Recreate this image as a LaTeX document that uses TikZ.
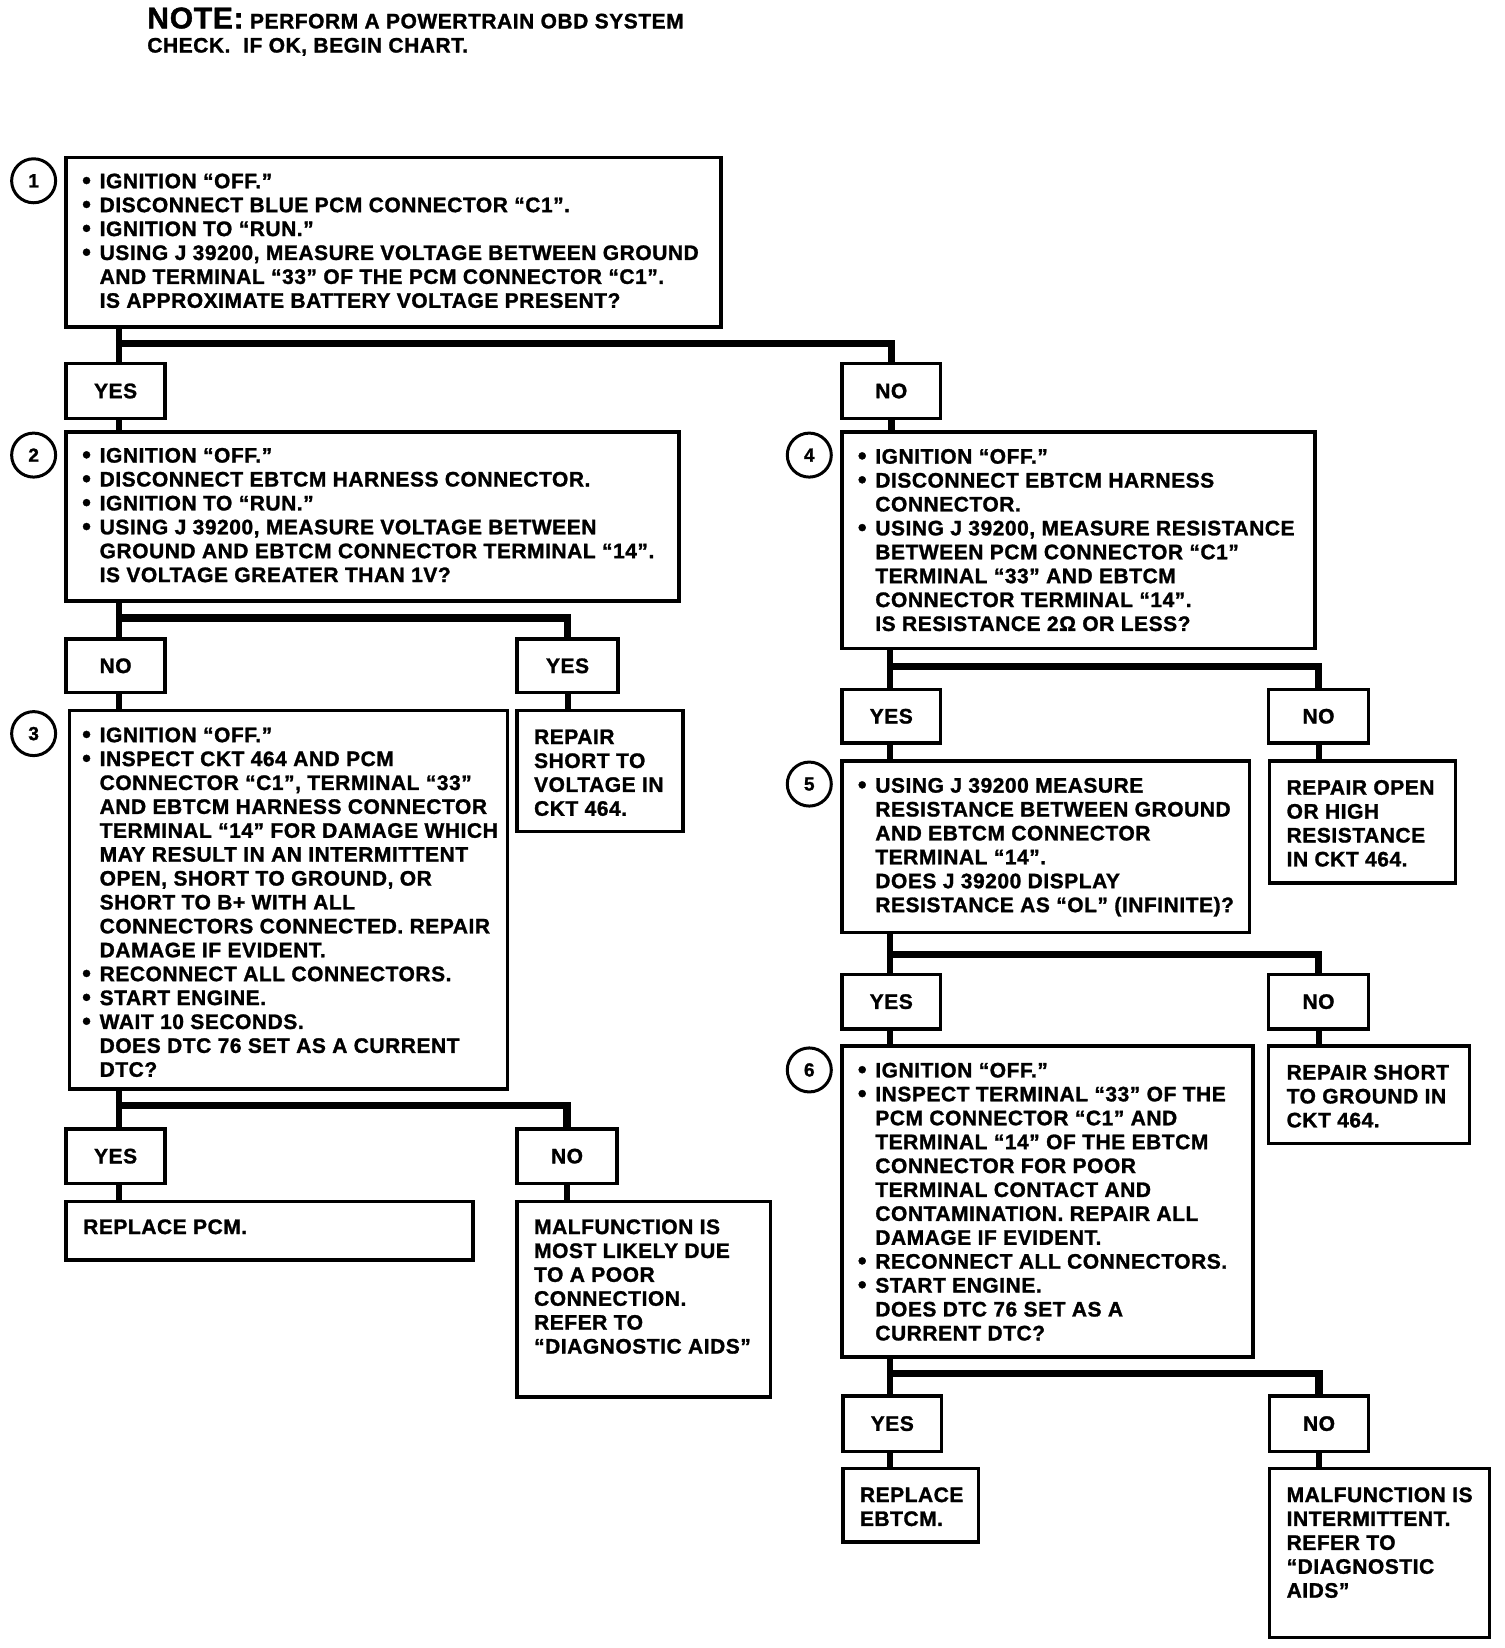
\documentclass[tikz,border=0pt]{standalone}
\usepackage{fontspec}
\setmainfont{Liberation Sans}[LetterSpace=2.5, BoldFeatures={FakeBold=1.3}]
\usetikzlibrary{fit}
\newcommand\bu{\makebox[17.5pt][l]{\raisebox{-0.5pt}{\fontsize{25}{25}\selectfont •}}}
\newcommand\ii{\hspace*{17.5pt}}
\tikzset{
  box/.style={draw, line width=3.5pt, inner sep=0pt, rectangle},
  lbl/.style={draw, line width=3.5pt, inner sep=0pt, rectangle},
  lbltext/.style={font=\fontsize{21}{24}\selectfont\bfseries, inner sep=0pt},
  txt/.style={font=\fontsize{21}{23.9}\selectfont\bfseries, align=left, inner sep=0pt, anchor=north west},
  circ/.style={draw, circle, line width=3pt, minimum size=44pt, inner sep=0pt, font=\fontsize{19}{19}\selectfont\bfseries},
  stem/.style={line width=6pt, line cap=butt},
  bar/.style={line width=7.5pt, line cap=butt, line join=miter},
}
\begin{document}
\begin{tikzpicture}[x=1.051pt, y=-1.051pt]
\useasboundingbox (0,0) rectangle (1431,1568);

% note
\node[anchor=base west, inner sep=0pt, font=\fontsize{21}{24}\selectfont\bfseries] (note1) at (140,27) {{\fontsize{30}{30}\selectfont NOTE:} PERFORM A POWERTRAIN OBD SYSTEM};
\node[anchor=base west, inner sep=0pt, font=\fontsize{21}{24}\selectfont\bfseries] (note2) at (140,50) {CHECK.\ \ IF OK, BEGIN CHART.};

% ---------- boxes ----------
\node[box, fit={(63,150) (686,311)}] (b1) {};
\node[box, fit={(63,411) (646,572)}] (b2) {};
\node[box, fit={(66,676) (483,1036)}] (b3) {};
\node[box, fit={(492,676) (650,791)}] (r2) {};
\node[box, fit={(63,1143) (450,1199)}] (r3y) {};
\node[box, fit={(492,1143) (733,1329)}] (r3n) {};
\node[box, fit={(801,411) (1251,617)}] (b4) {};
\node[box, fit={(1208,724) (1385,840)}] (r4) {};
\node[box, fit={(801,724) (1189,887)}] (b5) {};
\node[box, fit={(1207,995) (1398,1088)}] (r5) {};
\node[box, fit={(801,995) (1192,1291)}] (b6) {};
\node[box, fit={(802,1397) (931,1467)}] (r6y) {};
\node[box, fit={(1208,1397) (1417,1558)}] (r6n) {};

% ---------- yes/no labels ----------
\node[lbl, fit={(63,346) (157,398)}, label={[lbltext]center:YES}] (y1) {};
\node[lbl, fit={(801,346) (895,398)}, label={[lbltext]center:NO}] (n1) {};
\node[lbl, fit={(63,608) (157,659)}, label={[lbltext]center:NO}] (n2) {};
\node[lbl, fit={(492,608) (588,659)}, label={[lbltext]center:YES}] (y2) {};
\node[lbl, fit={(63,1074) (157,1126)}, label={[lbltext]center:YES}] (y3) {};
\node[lbl, fit={(492,1074) (587,1126)}, label={[lbltext]center:NO}] (n3) {};
\node[lbl, fit={(801,656) (895,707)}, label={[lbltext]center:YES}] (y4) {};
\node[lbl, fit={(1207,656) (1302,707)}, label={[lbltext]center:NO}] (n4) {};
\node[lbl, fit={(801,927) (895,979)}, label={[lbltext]center:YES}] (y5) {};
\node[lbl, fit={(1207,927) (1302,979)}, label={[lbltext]center:NO}] (n5) {};
\node[lbl, fit={(802,1328) (896,1381)}, label={[lbltext]center:YES}] (y6) {};
\node[lbl, fit={(1208,1328) (1302,1381)}, label={[lbltext]center:NO}] (n6) {};

% ---------- circles ----------
\node[circ] (c1) at (32,172) {1};
\node[circ] (c2) at (32,433) {2};
\node[circ] (c3) at (32,698) {3};
\node[circ] (c4) at (770,433) {4};
\node[circ] (c5) at (770,746) {5};
\node[circ] (c6) at (770,1018) {6};

% ---------- texts ----------
\node[txt] (t1) at (78,165) {\bu IGNITION “OFF.”\\
\bu DISCONNECT BLUE PCM CONNECTOR “C1”.\\
\bu IGNITION TO “RUN.”\\
\bu USING J 39200, MEASURE VOLTAGE BETWEEN GROUND\\
\ii AND TERMINAL “33” OF THE PCM CONNECTOR “C1”.\\
\ii IS APPROXIMATE BATTERY VOLTAGE PRESENT?};

\node[txt] (t2) at (78,426) {\bu IGNITION “OFF.”\\
\bu DISCONNECT EBTCM HARNESS CONNECTOR.\\
\bu IGNITION TO “RUN.”\\
\bu USING J 39200, MEASURE VOLTAGE BETWEEN\\
\ii GROUND AND EBTCM CONNECTOR TERMINAL “14”.\\
\ii IS VOLTAGE GREATER THAN 1V?};

\node[txt] (t3) at (78,692) {\bu IGNITION “OFF.”\\
\bu INSPECT CKT 464 AND PCM\\
\ii CONNECTOR “C1”, TERMINAL “33”\\
\ii AND EBTCM HARNESS CONNECTOR\\
\ii TERMINAL “14” FOR DAMAGE WHICH\\
\ii MAY RESULT IN AN INTERMITTENT\\
\ii OPEN, SHORT TO GROUND, OR\\
\ii SHORT TO B+ WITH ALL\\
\ii CONNECTORS CONNECTED. REPAIR\\
\ii DAMAGE IF EVIDENT.\\
\bu RECONNECT ALL CONNECTORS.\\
\bu START ENGINE.\\
\bu WAIT 10 SECONDS.\\
\ii DOES DTC 76 SET AS A CURRENT\\
\ii DTC?};

\node[txt] (tr2) at (508,694) {REPAIR\\ SHORT TO\\ VOLTAGE IN\\ CKT 464.};

\node[txt] (tr3y) at (79,1160) {REPLACE PCM.};
\node[txt] (tr3n) at (508,1160) {MALFUNCTION IS\\ MOST LIKELY DUE\\ TO A POOR\\ CONNECTION.\\ REFER TO\\ “DIAGNOSTIC AIDS”};

\node[txt] (t4) at (816,427) {\bu IGNITION “OFF.”\\
\bu DISCONNECT EBTCM HARNESS\\
\ii CONNECTOR.\\
\bu USING J 39200, MEASURE RESISTANCE\\
\ii BETWEEN PCM CONNECTOR “C1”\\
\ii TERMINAL “33” AND EBTCM\\
\ii CONNECTOR TERMINAL “14”.\\
\ii IS RESISTANCE 2Ω OR LESS?};

\node[txt] (tr4) at (1224,742) {REPAIR OPEN\\ OR HIGH\\ RESISTANCE\\ IN CKT 464.};

\node[txt] (t5) at (816,740) {\bu USING J 39200 MEASURE\\
\ii RESISTANCE BETWEEN GROUND\\
\ii AND EBTCM CONNECTOR\\
\ii TERMINAL “14”.\\
\ii DOES J 39200 DISPLAY\\
\ii RESISTANCE AS “OL” (INFINITE)?};

\node[txt] (tr5) at (1224,1013) {REPAIR SHORT\\ TO GROUND IN\\ CKT 464.};

\node[txt] (t6) at (816,1011) {\bu IGNITION “OFF.”\\
\bu INSPECT TERMINAL “33” OF THE\\
\ii PCM CONNECTOR “C1” AND\\
\ii TERMINAL “14” OF THE EBTCM\\
\ii CONNECTOR FOR POOR\\
\ii TERMINAL CONTACT AND\\
\ii CONTAMINATION. REPAIR ALL\\
\ii DAMAGE IF EVIDENT.\\
\bu RECONNECT ALL CONNECTORS.\\
\bu START ENGINE.\\
\ii DOES DTC 76 SET AS A\\
\ii CURRENT DTC?};

\node[txt] (tr6y) at (818,1415) {REPLACE\\ EBTCM.};
\node[txt] (tr6n) at (1224,1415) {MALFUNCTION IS\\ INTERMITTENT.\\ REFER TO\\ “DIAGNOSTIC\\ AIDS”};

% ---------- connectors ----------
\coordinate (j1) at (113,327);
\draw[stem] (b1.south -| j1) -- (j1 |- y1.north);
\draw[bar] ([xshift=-3pt]j1) -| (n1.north);
\draw[stem] (j1 |- y1.south) -- (j1 |- b2.north);
\draw[bar] (n1.south) -- (n1.south |- b4.north);

\coordinate (j2) at (113,588);
\draw[stem] (b2.south -| j2) -- (j2 |- n2.north);
\draw[bar] ([xshift=-3pt]j2) -| (y2.north);
\draw[stem] (j2 |- n2.south) -- (j2 |- b3.north);
\draw[stem] (y2.south) -- (y2.south |- r2.north);

\coordinate (j3) at (113,1052);
\draw[stem] (b3.south -| j3) -- (j3 |- y3.north);
\draw[bar] ([xshift=-3pt]j3) -| (n3.north);
\draw[stem] (j3 |- y3.south) -- (j3 |- r3y.north);
\draw[stem] (n3.south) -- (n3.south |- r3n.north);

\coordinate (j4) at (847,634);
\draw[stem] (b4.south -| j4) -- (j4 |- y4.north);
\draw[bar] ([xshift=-3pt]j4) -| (n4.north);
\draw[stem] (j4 |- y4.south) -- (j4 |- b5.north);
\draw[stem] (n4.south) -- (n4.south |- r4.north);

\coordinate (j5) at (847,908);
\draw[stem] (b5.south -| j5) -- (j5 |- y5.north);
\draw[bar] ([xshift=-3pt]j5) -| (n5.north);
\draw[stem] (j5 |- y5.south) -- (j5 |- b6.north);
\draw[stem] (n5.south) -- (n5.south |- r5.north);

\coordinate (j6) at (847,1307);
\draw[stem] (b6.south -| j6) -- (j6 |- y6.north);
\draw[bar] ([xshift=-3pt]j6) -| (n6.north);
\draw[stem] (j6 |- y6.south) -- (j6 |- r6y.north);
\draw[stem] (n6.south) -- (n6.south |- r6n.north);
\end{tikzpicture}
\end{document}
